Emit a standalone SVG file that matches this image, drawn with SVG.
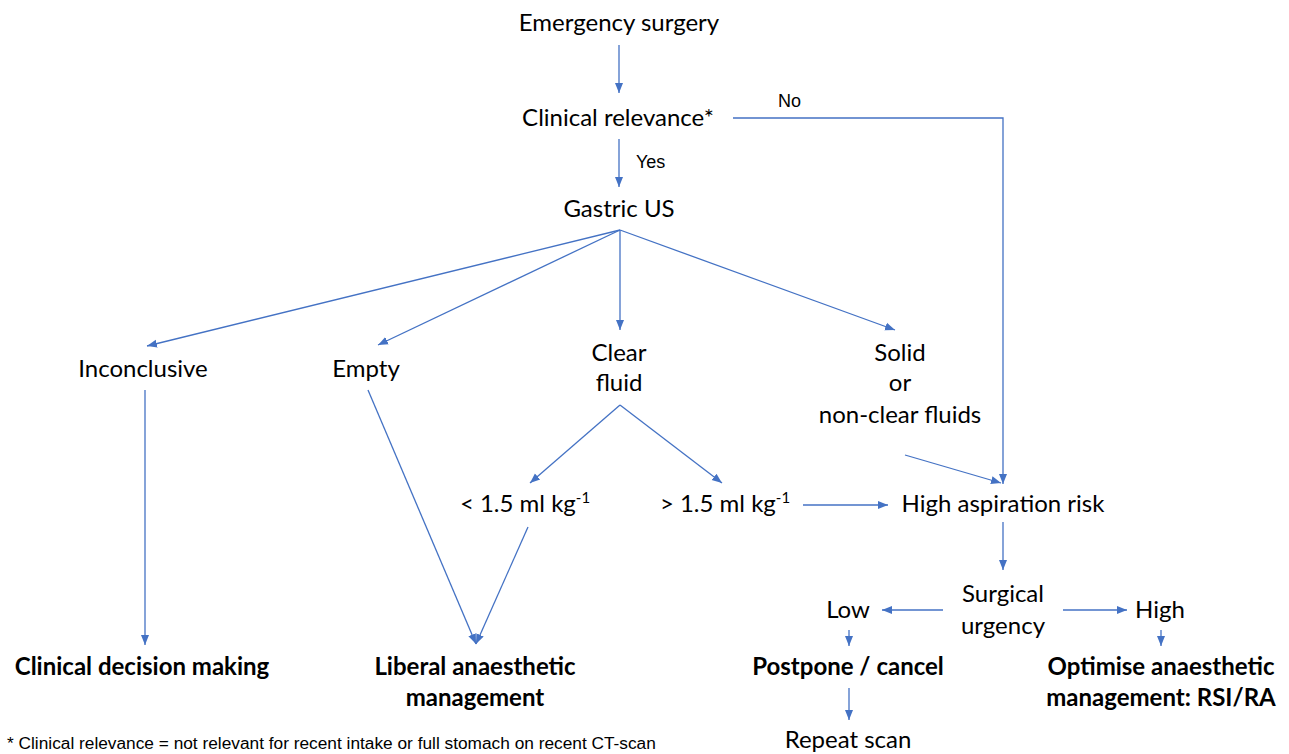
<svg xmlns="http://www.w3.org/2000/svg" width="1289" height="754" viewBox="0 0 1289 754">
<style>
text{font-family:Lato,"Open Sans",sans-serif;font-size:24px;fill:#000;text-anchor:middle}
.b{font-weight:bold}
.s{font-family:"Liberation Sans",Arial,sans-serif;font-size:18px;text-anchor:start}
.f{font-family:"Liberation Sans",Arial,sans-serif;font-size:17.3px;text-anchor:start}
.sup{font-size:15px}
line,polyline{stroke:#4472C4;stroke-width:1.3;fill:none}
</style>
<defs>
<marker id="a" viewBox="0 0 10 10" refX="10" refY="5" markerWidth="10" markerHeight="10" markerUnits="userSpaceOnUse" orient="auto">
<path d="M0,1 L10,5 L0,9 Z" fill="#4472C4"/>
</marker>
</defs>
<g id="connectors">
<line x1="619" y1="45" x2="619" y2="93" marker-end="url(#a)"/>
<polyline points="733,118 1003,118 1003,484" marker-end="url(#a)"/>
<line x1="619" y1="139" x2="619" y2="187" marker-end="url(#a)"/>
<line x1="620" y1="230" x2="147" y2="346" marker-end="url(#a)"/>
<line x1="620" y1="230" x2="378" y2="345" marker-end="url(#a)"/>
<line x1="620" y1="230" x2="620" y2="330" marker-end="url(#a)"/>
<line x1="620" y1="230" x2="895" y2="330" marker-end="url(#a)"/>
<line x1="620" y1="405" x2="530" y2="483" marker-end="url(#a)"/>
<line x1="620" y1="405" x2="722" y2="483" marker-end="url(#a)"/>
<line x1="803" y1="505" x2="888" y2="505" marker-end="url(#a)"/>
<line x1="905" y1="455" x2="1001" y2="483" marker-end="url(#a)"/>
<line x1="1003" y1="522" x2="1003" y2="570" marker-end="url(#a)"/>
<line x1="943" y1="610" x2="882" y2="610" marker-end="url(#a)"/>
<line x1="1063" y1="610" x2="1127" y2="610" marker-end="url(#a)"/>
<line x1="849" y1="630" x2="849" y2="646" marker-end="url(#a)"/>
<line x1="1161" y1="630" x2="1161" y2="646" marker-end="url(#a)"/>
<line x1="849" y1="688" x2="849" y2="720" marker-end="url(#a)"/>
<line x1="145" y1="390" x2="145" y2="645" marker-end="url(#a)"/>
<line x1="368" y1="390" x2="476" y2="644" marker-end="url(#a)"/>
<line x1="528" y1="527" x2="476" y2="644" marker-end="url(#a)"/>
<text class="s" x="778" y="107">No</text>
<text class="s" x="636" y="168">Yes</text>
</g>
<g id="n-emergency"><text x="619" y="31">Emergency surgery</text></g>
<g id="n-relevance"><text x="618" y="126">Clinical relevance*</text></g>
<g id="n-gastric"><text x="619" y="217">Gastric US</text></g>
<g id="n-inconclusive"><text x="143" y="377">Inconclusive</text></g>
<g id="n-empty"><text x="366" y="377">Empty</text></g>
<g id="n-clear"><text x="619" y="361">Clear</text><text x="619" y="391">fluid</text></g>
<g id="n-solid"><text x="900" y="361">Solid</text><text x="900" y="391">or</text><text x="900" y="423">non-clear fluids</text></g>
<g id="n-lt"><text x="525" y="512">&lt; 1.5 ml kg<tspan class="sup" dy="-9">-1</tspan></text></g>
<g id="n-gt"><text x="725" y="512">&gt; 1.5 ml kg<tspan class="sup" dy="-9">-1</tspan></text></g>
<g id="n-high-risk"><text x="1003" y="512">High aspiration risk</text></g>
<g id="n-urgency"><text x="1003" y="602">Surgical</text><text x="1003" y="634">urgency</text></g>
<g id="n-low"><text x="848" y="618">Low</text></g>
<g id="n-high"><text x="1160" y="618">High</text></g>
<g id="n-postpone"><text class="b" x="848" y="675">Postpone / cancel</text></g>
<g id="n-optimise"><text class="b" x="1161" y="675">Optimise anaesthetic</text><text class="b" x="1161" y="706">management: RSI/RA</text></g>
<g id="n-repeat"><text x="848" y="748">Repeat scan</text></g>
<g id="n-decision"><text class="b" x="142" y="675">Clinical decision making</text></g>
<g id="n-liberal"><text class="b" x="475" y="675">Liberal anaesthetic</text><text class="b" x="475" y="706">management</text></g>
<g id="footnote"><text class="f" x="7" y="749">* Clinical relevance = not relevant for recent intake or full stomach on recent CT-scan</text></g>
</svg>
